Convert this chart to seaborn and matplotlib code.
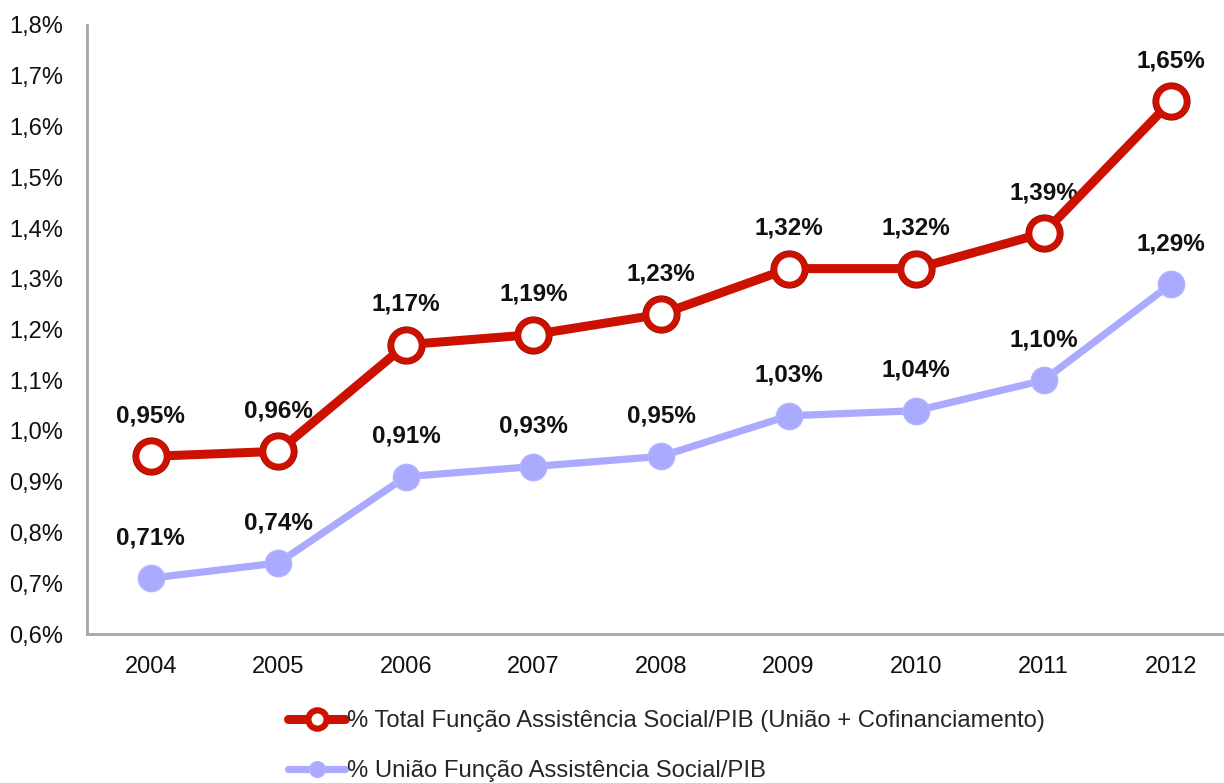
import matplotlib
matplotlib.use("Agg")
import matplotlib.pyplot as plt
import seaborn as sns
import pandas as pd
import numpy as np

years = ["2004", "2005", "2006", "2007", "2008", "2009", "2010", "2011", "2012"]
total_pib = [0.95, 0.96, 1.17, 1.19, 1.23, 1.32, 1.32, 1.39, 1.65]
uniao_pib = [0.71, 0.74, 0.91, 0.93, 0.95, 1.03, 1.04, 1.10, 1.29]
label_total = "% Total Função Assistência Social/PIB (União + Cofinanciamento)"
label_uniao = "% União Função Assistência Social/PIB"
y_ticks = [0.6, 0.7, 0.8, 0.9, 1.0, 1.1, 1.2, 1.3, 1.4, 1.5, 1.6, 1.7, 1.8]

sns.set_theme(style="white")
plt.rcParams["font.family"] = ["Liberation Sans", "DejaVu Sans"]

df = pd.DataFrame({"ano": years, "total": total_pib, "uniao": uniao_pib})

fig = plt.figure(figsize=(12.24, 7.83), dpi=100)
ax = fig.add_axes([87 / 1224, 149 / 783, 1148 / 1224, 609 / 783])

red = "#CC1100"
blue = "#AAAAFF"

sns.lineplot(data=df, x="ano", y="uniao", ax=ax, color=blue, linewidth=5.2,
             marker="o", markersize=19, markerfacecolor=blue,
             markeredgecolor="#B4B4FF", markeredgewidth=1, label=label_uniao, zorder=3)
# dark rim under the red markers
sns.lineplot(data=df, x="ano", y="total", ax=ax, color="#7A0A00", linewidth=0,
             marker="o", markersize=25, markerfacecolor="none",
             markeredgecolor="#8A0E00", markeredgewidth=2.5, zorder=4, legend=False)
sns.lineplot(data=df, x="ano", y="total", ax=ax, color=red, linewidth=6.5,
             marker="o", markersize=22, markerfacecolor="white",
             markeredgecolor=red, markeredgewidth=4.5, label=label_total, zorder=5)

ax.set_xlim(-0.5, 8.5)
ax.set_ylim(0.6, 1.8)
ax.set_yticks(y_ticks)
ax.set_yticklabels([f"{v:.1f}%".replace(".", ",") for v in y_ticks])
ax.set_xlabel("")
ax.set_ylabel("")
ax.tick_params(axis="both", length=0, labelsize=17, colors="#111111")
ax.tick_params(axis="x", pad=16)
ax.tick_params(axis="y", pad=17)

for side in ["top", "right"]:
    ax.spines[side].set_visible(False)
for side in ["left", "bottom"]:
    ax.spines[side].set_color("#A6A6A6")
    ax.spines[side].set_linewidth(2)

for i, v in enumerate(total_pib):
    ax.annotate(f"{v:.2f}%".replace(".", ","), (i, v), xytext=(0, 29),
                textcoords="offset points", ha="center", va="center",
                fontsize=17.5, fontweight="bold", color="#111111")
for i, v in enumerate(uniao_pib):
    ax.annotate(f"{v:.2f}%".replace(".", ","), (i, v), xytext=(0, 29),
                textcoords="offset points", ha="center", va="center",
                fontsize=17.5, fontweight="bold", color="#111111")

ax.get_legend().remove()
handles, labels = ax.get_legend_handles_labels()
order = [labels.index(label_total), labels.index(label_uniao)]
fig.legend([handles[k] for k in order], [labels[k] for k in order],
           loc="upper left", bbox_to_anchor=(288 / 1224, 1 - 710 / 783),
           frameon=False, fontsize=17.2, handlelength=2.4, handletextpad=0.05,
           labelspacing=1.17, borderaxespad=0, borderpad=0, markerscale=0.6)

fig.savefig("out.png", dpi=100)
